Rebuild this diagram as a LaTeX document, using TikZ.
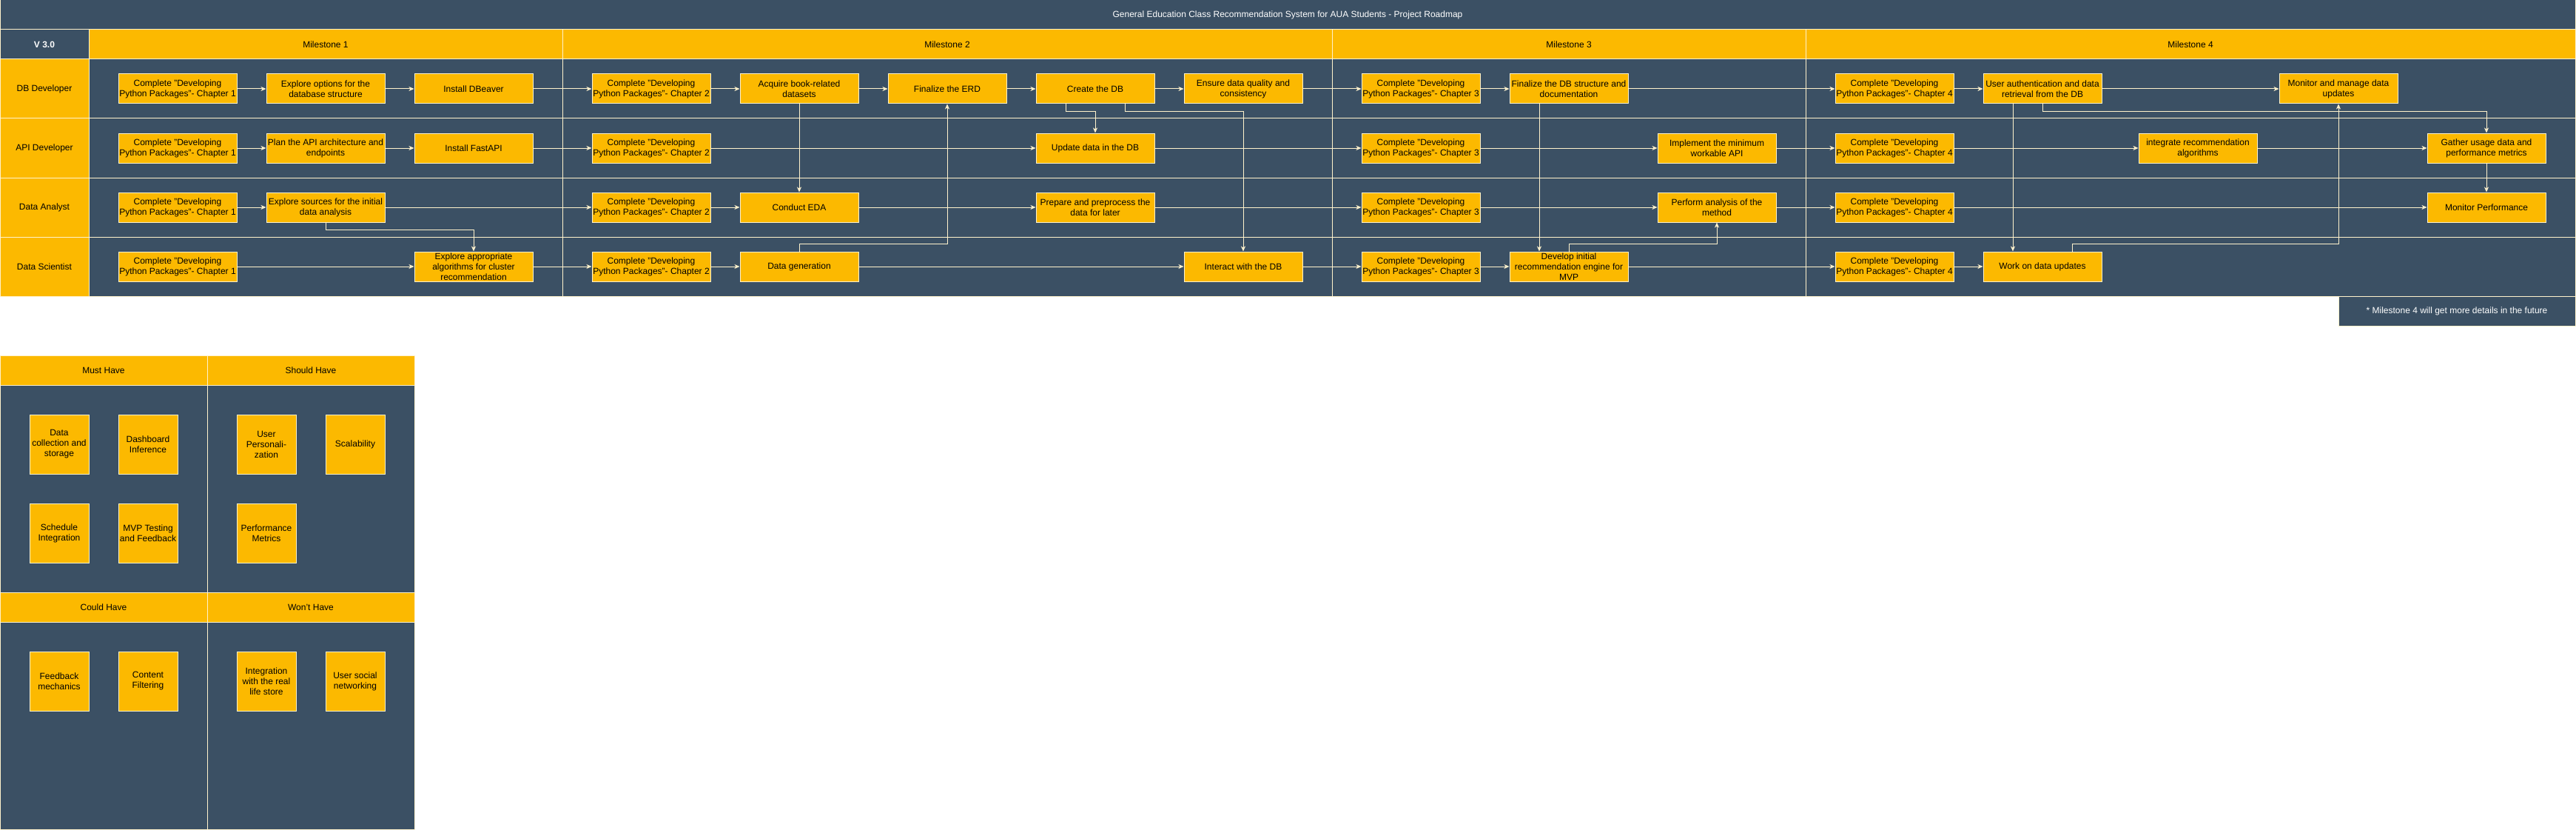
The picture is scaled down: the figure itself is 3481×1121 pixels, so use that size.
\documentclass[tikz,border=0pt]{standalone}
\usepackage{fontspec}
\setmainfont{Liberation Sans}
\usepackage{tikz}
\usetikzlibrary{arrows.meta}
\definecolor{mydark}{HTML}{3B5064}
\definecolor{myyellow}{HTML}{FCB900}
\definecolor{mycream}{HTML}{FFF2CC}
\tikzset{
  cell/.style={draw=mycream, line width=1pt, inner sep=1pt, align=center, font=\fontsize{12}{14}\selectfont},
  header/.style={cell, fill=myyellow, minimum height=40},
  lane/.style={cell, fill=myyellow, minimum width=120, minimum height=80},
  task/.style={cell, fill=myyellow, minimum width=160, minimum height=40},
  item/.style={cell, fill=myyellow, minimum width=80, minimum height=80},
  flow/.style={draw=mycream, line width=1pt, -{Stealth[length=7pt,width=6pt,inset=2pt]}}
}
\begin{document}
\begin{tikzpicture}[x=1pt, y=-1pt]
      \useasboundingbox (0,0) rectangle (3481,1121);
      \node[cell, fill=mydark, text=white, minimum width=3480, minimum height=40] (title) at (1740,20) {General Education Class Recommendation System for AUA Students - Project Roadmap};
      \node[cell, fill=mydark, text=white, font=\bfseries\fontsize{12}{14}\selectfont, minimum width=120, minimum height=40] (ver) at (60,60) {V 3.0};
      \node[header, minimum width=640] (ms1) at (440,60) {Milestone 1};
      \node[header, minimum width=1040] (ms2) at (1280,60) {Milestone 2};
      \node[header, minimum width=640] (ms3) at (2120,60) {Milestone 3};
      \node[header, minimum width=1040] (ms4) at (2960,60) {Milestone 4};
      \node[lane] (lane1) at (60,120) {DB Developer};
      \node[lane] (lane2) at (60,200) {API Developer};
      \node[lane] (lane3) at (60,280) {Data Analyst};
      \node[lane] (lane4) at (60,360) {Data Scientist};
      \foreach \y in {80,160,240,320}
        \foreach \a/\b in {120/760,760/1800,1800/2440,2440/3480}
          \filldraw[fill=mydark, draw=mycream, line width=1pt] (\a,\y) rectangle (\b,\y+80);
      \node[cell, fill=mydark, text=white, minimum width=320, minimum height=40] (note) at (3320,420) {* Milestone 4 will get more details in the future};

      \node[task] (db1) at (240,120) {Complete "Developing\\Python Packages"- Chapter 1};
      \node[task] (db2) at (440,120) {Explore options for the\\database structure};
      \node[task] (db3) at (640,120) {Install DBeaver};
      \node[task] (db4) at (880,120) {Complete "Developing\\Python Packages"- Chapter 2};
      \node[task] (db5) at (1080,120) {Acquire book-related\\datasets};
      \node[task] (db6) at (1280,120) {Finalize the ERD};
      \node[task] (db7) at (1480,120) {Create the DB};
      \node[task] (db8) at (1680,120) {Ensure data quality and\\consistency};
      \node[task] (db9) at (1920,120) {Complete "Developing\\Python Packages"- Chapter 3};
      \node[task] (db10) at (2120,120) {Finalize the DB structure and\\documentation};
      \node[task] (db11) at (2560,120) {Complete "Developing\\Python Packages"- Chapter 4};
      \node[task] (db12) at (2760,120) {User authentication and data\\retrieval from the DB};
      \node[task] (db13) at (3160,120) {Monitor and manage data\\updates};

      \node[task] (api1) at (240,200) {Complete "Developing\\Python Packages"- Chapter 1};
      \node[task] (api2) at (440,200) {Plan the API architecture and\\endpoints};
      \node[task] (api3) at (640,200) {Install FastAPI};
      \node[task] (api4) at (880,200) {Complete "Developing\\Python Packages"- Chapter 2};
      \node[task] (api5) at (1480,200) {Update data in the DB};
      \node[task] (api6) at (1920,200) {Complete "Developing\\Python Packages"- Chapter 3};
      \node[task] (api7) at (2320,200) {Implement the minimum\\workable API};
      \node[task] (api8) at (2560,200) {Complete "Developing\\Python Packages"- Chapter 4};
      \node[task] (api9) at (2970,200) {integrate recommendation\\algorithms};
      \node[task] (api10) at (3360,200) {Gather usage data and\\performance metrics};

      \node[task] (da1) at (240,280) {Complete "Developing\\Python Packages"- Chapter 1};
      \node[task] (da2) at (440,280) {Explore sources for the initial\\data analysis};
      \node[task] (da3) at (880,280) {Complete "Developing\\Python Packages"- Chapter 2};
      \node[task] (da4) at (1080,280) {Conduct EDA};
      \node[task] (da5) at (1480,280) {Prepare and preprocess the\\data for later};
      \node[task] (da6) at (1920,280) {Complete "Developing\\Python Packages"- Chapter 3};
      \node[task] (da7) at (2320,280) {Perform analysis of the\\method};
      \node[task] (da8) at (2560,280) {Complete "Developing\\Python Packages"- Chapter 4};
      \node[task] (da9) at (3360,280) {Monitor Performance};

      \node[task] (ds1) at (240,360) {Complete "Developing\\Python Packages"- Chapter 1};
      \node[task] (ds2) at (640,360) {Explore appropriate\\algorithms for cluster\\recommendation};
      \node[task] (ds3) at (880,360) {Complete "Developing\\Python Packages"- Chapter 2};
      \node[task] (ds4) at (1080,360) {Data generation};
      \node[task] (ds5) at (1680,360) {Interact with the DB};
      \node[task] (ds6) at (1920,360) {Complete "Developing\\Python Packages"- Chapter 3};
      \node[task] (ds7) at (2120,360) {Develop initial\\recommendation engine for\\MVP};
      \node[task] (ds8) at (2560,360) {Complete "Developing\\Python Packages"- Chapter 4};
      \node[task] (ds9) at (2760,360) {Work on data updates};

      \foreach \a/\b in {db1/db2,db2/db3,db3/db4,db4/db5,db5/db6,db6/db7,db7/db8,db8/db9,db9/db10,db10/db11,db11/db12,db12/db13,
        api1/api2,api2/api3,api3/api4,api4/api5,api5/api6,api6/api7,api7/api8,api8/api9,api9/api10,
        da1/da2,da2/da3,da3/da4,da4/da5,da5/da6,da6/da7,da7/da8,da8/da9,
        ds1/ds2,ds2/ds3,ds3/ds4,ds4/ds5,ds5/ds6,ds6/ds7,ds7/ds8,ds8/ds9}
        \draw[flow] (\a) -- (\b);
      \draw[flow] (da2.south) -- ++(0,10) -| (ds2.north);
      \draw[flow] (db5.south) -- (da4.north);
      \draw[flow] (ds4.north) -- ++(0,-10) -| (db6.south);
      \draw[flow] ([xshift=-40]db7.south) -- ++(0,10) -| (api5.north);
      \draw[flow] ([xshift=40]db7.south) -- ++(0,10) -| (ds5.north);
      \draw[flow] ([xshift=-40]db10.south) -- ([xshift=-40]ds7.north);
      \draw[flow] (ds7.north) -- ++(0,-10) -| (da7.south);
      \draw[flow] ([xshift=-40]db12.south) -- ([xshift=-40]ds9.north);
      \draw[flow] (db12.south) -- ++(0,10) -| (api10.north);
      \draw[flow] ([xshift=40]ds9.north) -- ++(0,-10) -| (db13.south);
      \draw[flow] (api10.south) -- (da9.north);

      \filldraw[fill=mydark, draw=mycream, line width=1pt] (0,520) rectangle (280,800) (280,520) rectangle (560,800)
        (0,840) rectangle (280,1120) (280,840) rectangle (560,1120);
      \node[header, minimum width=280] (must) at (140,500) {Must Have};
      \node[header, minimum width=280] (should) at (420,500) {Should Have};
      \node[header, minimum width=280] (could) at (140,820) {Could Have};
      \node[header, minimum width=280] (wont) at (420,820) {Won't Have};
      \node[item] (m1) at (80,600) {Data\\collection and\\storage};
      \node[item] (m2) at (200,600) {Dashboard\\Inference};
      \node[item] (m3) at (80,720) {Schedule\\Integration};
      \node[item] (m4) at (200,720) {MVP Testing\\and Feedback};
      \node[item] (s1) at (360,600) {User\\Personali-\\zation};
      \node[item] (s2) at (480,600) {Scalability};
      \node[item] (s3) at (360,720) {Performance\\Metrics};
      \node[item] (c1) at (80,920) {Feedback\\mechanics};
      \node[item] (c2) at (200,920) {Content\\Filtering};
      \node[item] (w1) at (360,920) {Integration\\with the real\\life store};
      \node[item] (w2) at (480,920) {User social\\networking};
    \end{tikzpicture}
\end{document}
